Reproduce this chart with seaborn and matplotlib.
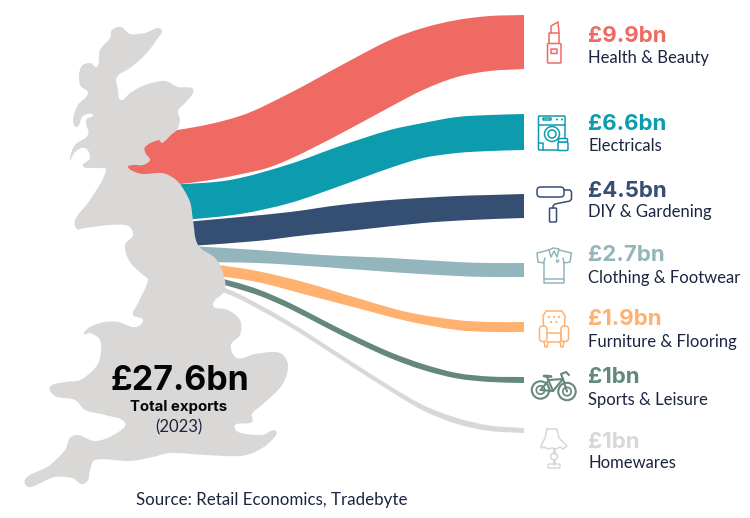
import numpy as np
import matplotlib
matplotlib.use("Agg")
import matplotlib.pyplot as plt
from matplotlib.path import Path
from matplotlib.patches import PathPatch, Circle, FancyBboxPatch
import seaborn as sns

categories = ["Health & Beauty", "Electricals", "DIY & Gardening", "Clothing & Footwear",
              "Furniture & Flooring", "Sports & Leisure", "Homewares"]
amounts = ["£9.9bn", "£6.6bn", "£4.5bn", "£2.7bn", "£1.9bn", "£1bn", "£1bn"]
colours = ["#EF6A62", "#0D9CAD", "#354F73", "#93B6BC", "#FFB26F", "#64887F", "#D9D8D7"]
map_colour = "#D9D8D7"
ink = "#1C2540"

amount_baseline = [42.5, 130, 197, 261, 325, 383, 448]
label_baseline = [62.5, 151, 217.5, 282.5, 346.5, 404.5, 467.5]

health_top = [(110, 135), (177, 130), (240, 116), (290, 93), (340, 66), (390, 40), (423, 28), (457, 20), (490, 16), (524, 15)]
health_bot = [(110, 184), (180, 184), (260, 170), (290, 159), (340, 134), (390, 107), (423, 90), (457, 77), (490, 71), (524, 69)]
elec_top = [(170, 185), (230, 180), (290, 164), (340, 146), (390, 130), (423, 123), (457, 117), (490, 115), (524, 114)]
elec_bot = [(185, 220), (240, 214), (290, 203), (340, 186), (390, 168), (423, 158), (457, 153), (490, 151), (524, 150)]
diy_top = [(185, 222), (240, 217), (290, 212), (340, 205), (390, 200), (457, 196), (490, 195), (524, 194)]
diy_bot = [(190, 246), (257, 241), (307, 235), (357, 230), (423, 223), (470, 220), (524, 218)]
cloth_top = [(190, 246), (257, 250), (323, 255), (390, 258), (457, 262), (490, 263), (524, 263)]
cloth_bot = [(190, 262), (257, 263), (323, 267), (390, 272), (457, 276), (490, 277), (524, 277)]
furn_top = [(205, 263), (257, 271), (307, 283), (357, 298), (407, 312), (457, 320), (490, 322), (524, 322)]
furn_bot = [(205, 274), (257, 282), (307, 295), (357, 308), (407, 321), (457, 330), (490, 332), (524, 332)]
sport_top = [(210, 276), (235, 282), (260, 290), (290, 303), (323, 320), (357, 337), (390, 352), (423, 364), (457, 373), (490, 376.5), (524, 377)]
sport_bot = [(210, 281), (235, 288), (260, 296), (290, 309), (323, 326), (357, 343), (390, 358), (423, 370), (457, 378.5), (490, 382), (524, 383)]
home_top = [(212, 283), (235, 292), (260, 305), (290, 322), (323, 343), (357, 365), (390, 386), (423, 405), (457, 418), (490, 425.5), (524, 428)]
home_bot = [(212, 288), (235, 297), (260, 310), (290, 327), (323, 348), (357, 370), (390, 391), (423, 410.5), (457, 424), (490, 431), (524, 433)]
flow_edges = [(health_top, health_bot), (elec_top, elec_bot), (diy_top, diy_bot), (cloth_top, cloth_bot),
              (furn_top, furn_bot), (sport_top, sport_bot), (home_top, home_bot)]

uk_outline = [
    (121, 27), (130, 34), (145, 33), (161, 29), (155, 42), (145, 55), (130, 68), (117, 77), (118, 90), (121, 100),
    (130, 93), (145, 85), (165, 81), (178, 87), (192, 88), (193, 93), (185, 103), (178, 111), (180, 120), (177, 130),
    (172, 134), (162, 143), (159, 140), (145, 147), (146, 154), (150, 160), (143, 165), (133, 165), (128, 167), (135, 172),
    (143, 174), (162, 173), (172, 177), (180, 184), (190, 202), (193, 220), (198, 245), (215, 258), (222, 270), (225, 290),
    (213, 305), (228, 310), (240, 320), (240, 335), (231, 345), (237, 358), (255, 354), (280, 353), (288, 365), (282, 385),
    (262, 405), (252, 414), (252, 422), (235, 425), (238, 432), (262, 435), (276, 431), (270, 442), (255, 452), (240, 456),
    (205, 455), (170, 453), (153, 457), (130, 461), (95, 460), (90, 470), (88, 480), (82, 484), (72, 478), (55, 477),
    (25, 484), (50, 465), (65, 450), (70, 438), (78, 435), (95, 441), (115, 434), (125, 423), (105, 415), (85, 410),
    (75, 400), (55, 396), (50, 387), (65, 382), (80, 380), (95, 368), (100, 358), (100, 340), (90, 333), (84, 334),
    (90, 327), (105, 322), (118, 322), (135, 327), (143, 320), (133, 315), (137, 305), (148, 280), (143, 275), (130, 262),
    (125, 245), (133, 235), (128, 226), (110, 225), (85, 228), (77, 229), (75, 220), (90, 200), (106, 170), (97, 168),
    (83, 166), (90, 158), (85, 148), (75, 152), (70, 160), (75, 145), (88, 135), (86, 120), (93, 115), (83, 116),
    (77, 127), (73, 120), (78, 105), (88, 93), (80, 85), (81, 67), (90, 63), (97, 67), (100, 50), (110, 38), (112, 30),
]

sns.set_theme(style="white")
plt.rcParams["font.family"] = ["Lato", "DejaVu Sans"]
heavy = ["Inter", "Lato", "DejaVu Sans"]


def spline(points, closed=False):
    """Bezier segments through the points, with chord-length tangents."""
    p = np.asarray(points, float)
    n = len(p)
    verts, codes = [p[0]], [Path.MOVETO]

    def tangent(i):
        if closed:
            a, b = p[(i - 1) % n], p[(i + 1) % n]
        else:
            a, b = p[max(i - 1, 0)], p[min(i + 1, n - 1)]
        d = b - a
        return d / max(np.hypot(*d), 1e-6)

    for i in range(n if closed else n - 1):
        p1, p2 = p[i], p[(i + 1) % n]
        L = np.hypot(*(p2 - p1))
        verts += [p1 + tangent(i) * L / 3, p2 - tangent((i + 1) % n if closed else i + 1) * L / 3, p2]
        codes += [Path.CURVE4] * 3
    return verts, codes


fig = plt.figure(figsize=(7.5, 5.18), dpi=100)
ax = fig.add_axes([0, 0, 1, 1])
ax.set_xlim(0, 750)
ax.set_ylim(518, 0)
ax.axis("off")
sns.despine(ax=ax, left=True, bottom=True)

for (top, bot), col in zip(flow_edges, colours):
    v1, c1 = spline(top)
    v2, c2 = spline(bot[::-1])
    c2[0] = Path.LINETO
    verts = v1 + v2 + [v1[0]]
    codes = c1 + c2 + [Path.CLOSEPOLY]
    ax.add_patch(PathPatch(Path(verts, codes), fc=col, ec="none", zorder=2))

v, c = spline(uk_outline, closed=True)
ax.add_patch(PathPatch(Path(v, c), fc=map_colour, ec="none", zorder=3))

ax.text(179.5, 390, "£27.6bn", fontsize=24.5, fontweight="bold", family=heavy, color="#050505", ha="center", va="baseline", zorder=5)
ax.text(179, 411, "Total exports", fontsize=10.8, fontweight="bold", family=heavy, color="#050505", ha="center", va="baseline", zorder=5)
ax.text(179, 432, "(2023)", fontsize=12, color=ink, ha="center", va="baseline", zorder=5)
ax.text(136, 505, "Source: Retail Economics, Tradebyte", fontsize=12.2, color=ink, ha="left", va="baseline")

for name, amount, col, by, ly in zip(categories, amounts, colours, amount_baseline, label_baseline):
    ax.text(588, by, amount, fontsize=16, fontweight="bold", family=heavy, color=col, ha="left", va="baseline")
    ax.text(588, ly, name, fontsize=12, color=ink, ha="left", va="baseline")


def stroke(pts, col, lw=1.1, closed=False):
    xs, ys = zip(*pts)
    if closed:
        xs, ys = xs + xs[:1], ys + ys[:1]
    ax.plot(xs, ys, color=col, lw=lw, solid_capstyle="round", solid_joinstyle="round", zorder=6)


def box(x0, y0, x1, y1, col, lw=1.1, r=1.0):
    ax.add_patch(FancyBboxPatch((x0, y0), x1 - x0, y1 - y0, boxstyle=f"round,pad=0,rounding_size={r}",
                                fc="none", ec=col, lw=lw, zorder=6))


def ring(x, y, r, col, lw=1.1):
    ax.add_patch(Circle((x, y), r, fc="none", ec=col, lw=lw, zorder=6))


# lipstick
c0 = colours[0]
box(547.5, 43.5, 561, 63, c0)
stroke([(549, 43), (549, 33), (559, 33), (559, 43)], c0)
stroke([(551, 33), (551, 26), (558, 22), (559, 33)], c0)
box(551, 49, 557, 53.5, c0, r=0.3)

# washing machine
c1 = colours[1]
box(538.5, 116, 565, 150, c1)
stroke([(538.5, 125), (565, 125)], c1)
box(543, 118, 551, 120, c1, r=0.3)
ax.add_patch(Circle((557, 119.5), 1, fc=c1, ec="none", zorder=6))
ax.add_patch(Circle((562, 119.5), 1, fc=c1, ec="none", zorder=6))
ring(552, 134, 7.5, c1)
ring(552, 134, 4, c1)
stroke([(538.5, 143), (543, 143), (543, 150)], c1)
ax.add_patch(FancyBboxPatch((558, 142), 10, 8.5, boxstyle="round,pad=0,rounding_size=1.5", fc="white", ec=c1, lw=1.1, zorder=7))
ax.add_patch(FancyBboxPatch((558.5, 138.5), 9, 3.5, boxstyle="round,pad=0,rounding_size=1", fc="white", ec=c1, lw=1.1, zorder=7))

# paint roller
c2 = colours[2]
box(537, 187, 564, 197, c2, r=3.5)
stroke([(564, 190), (570, 190), (571.5, 192), (571.5, 199), (570, 201), (555, 204), (553, 206), (553, 208)], c2)
box(549.5, 208, 556.5, 222, c2)

# polo shirt
c3 = colours[3]
stroke([(543.5, 262), (543.5, 283), (564, 283), (564, 262)], c3)
stroke([(543.5, 279), (564, 279)], c3)
stroke([(549, 250), (537, 253), (538, 262), (543.5, 263), (545, 258)], c3)
stroke([(559, 250), (571.5, 253), (570, 262), (564, 263), (563, 258)], c3)
stroke([(549, 250), (553, 248), (559, 249), (557, 257), (554, 251), (551, 257), (549, 250)], c3)
ring(557.5, 261, 1.2, c3, lw=0.9)

# armchair
c4 = colours[4]
stroke([(543.5, 326), (543, 316), (546, 311), (562, 311), (565, 316), (564.5, 326)], c4)
box(539.5, 326, 547, 341.5, c4, r=3)
box(561, 326, 568.5, 341.5, c4, r=3)
stroke([(547, 333), (561, 333), (561, 341.5), (547, 341.5)], c4)
stroke([(544, 341.5), (545, 347), (547, 347), (548, 342)], c4)
stroke([(564, 341.5), (563, 347), (561, 347), (560, 342)], c4)
for dx, dy in [(549, 317), (554, 317), (559, 317), (551, 322), (556.5, 322)]:
    ax.add_patch(Circle((dx, dy), 1.1, fc=c4, ec="none", zorder=6))

# bicycle
c5 = colours[5]
for wx, wy in [(540.5, 390), (567, 391.5)]:
    ring(wx, wy, 8.7, c5, lw=1.5)
    ring(wx, wy, 4.2, c5, lw=1.2)
stroke([(540.5, 390), (549, 380), (563, 379), (567, 391.5)], c5, lw=1.5)
stroke([(540.5, 390), (553, 391), (563, 379)], c5, lw=1.5)
stroke([(553, 391), (547, 377)], c5, lw=1.5)
stroke([(544, 376), (551, 376.5)], c5, lw=2)
stroke([(563, 379), (561, 374), (566, 372), (569, 375)], c5, lw=1.5)

# lamp
c6 = colours[6]
stroke([(547, 429), (557, 429), (559, 438), (567, 446), (563, 449), (560, 447), (556, 449), (552, 448),
        (548, 449), (544, 447), (541, 448), (541, 446), (545, 438)], c6, closed=True)
stroke([(554, 449), (554, 453)], c6, lw=2)
ring(554, 456.5, 3.4, c6)
stroke([(554, 460), (554, 464)], c6, lw=2)
box(548, 464, 560, 468, c6, r=1)

fig.savefig("out.png", dpi=100)
